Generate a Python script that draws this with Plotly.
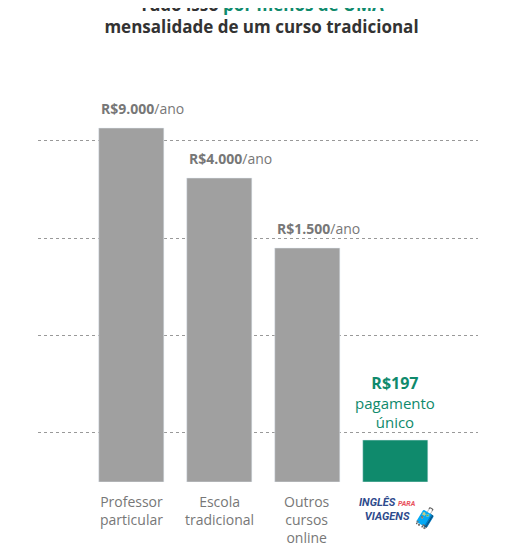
import plotly.graph_objects as go

categories = ["Professor<br>particular", "Escola<br>tradicional", "Outros<br>cursos<br>online", "logo"]
bar_heights = [354, 304, 234, 42]
price_labels = ["R$9.000", "R$4.000", "R$1.500", "R$197"]
colors = ["#a0a0a0", "#a0a0a0", "#a0a0a0", "#0f8a6c"]
grid_vals = [50, 147, 244, 342]

fig = go.Figure()
fig.add_trace(go.Bar(x=list(range(4)), y=bar_heights, marker_color=colors, width=0.74, hoverinfo="skip"))

for i in range(3):
    fig.add_annotation(x=i - 0.37, y=bar_heights[i], yshift=8, xanchor="left", yanchor="bottom",
                       text=f"<b>{price_labels[i]}</b>/ano", showarrow=False,
                       font=dict(size=14, color="#777777", family="Open Sans"))
fig.add_annotation(x=3, y=bar_heights[3], yshift=6, yanchor="bottom",
                   text=f"<b><span style='font-size:16px'>{price_labels[3]}</span></b><br>pagamento<br>único",
                   showarrow=False, font=dict(size=15, color="#0f8a6c", family="Open Sans"))

for i in range(3):
    fig.add_annotation(x=i, y=0, yshift=-8, yanchor="top", text=categories[i], showarrow=False,
                       font=dict(size=14, color="#777777", family="Open Sans"))
fig.add_annotation(x=3, y=0, yshift=-12, yanchor="top", xshift=-8,
                   text="<b><i>INGLÊS <span style='font-size:7px;color:#e8505b'>PARA</span><br>VIAGENS</i></b>",
                   showarrow=False, font=dict(size=11, color="#2e4a8c", family="Roboto"))
fig.add_annotation(x=3, y=0, yshift=-20, yanchor="top", xshift=30, text="🧳", showarrow=False,
                   font=dict(size=20, color="#e8505b"))

fig.update_layout(
    title=dict(text="<b>Tudo isso <span style='color:#0f8a6c'>por menos de UMA</span><br>mensalidade de um curso tradicional</b>",
               x=0.5, xanchor="center", y=0.995, yanchor="top", yref="container",
               font=dict(size=17, color="#333333", family="Open Sans")),
    width=507, height=560, margin=dict(l=30, r=37, t=52, b=86),
    paper_bgcolor="white", plot_bgcolor="white", showlegend=False,
    xaxis=dict(range=[-1.06, 3.94], showticklabels=False, showgrid=False, zeroline=False),
    yaxis=dict(range=[0, 422], tickvals=grid_vals, showticklabels=False, showgrid=True,
               gridcolor="#999999", griddash="dot", gridwidth=1, zeroline=False),
)
fig.write_html("out.html")
